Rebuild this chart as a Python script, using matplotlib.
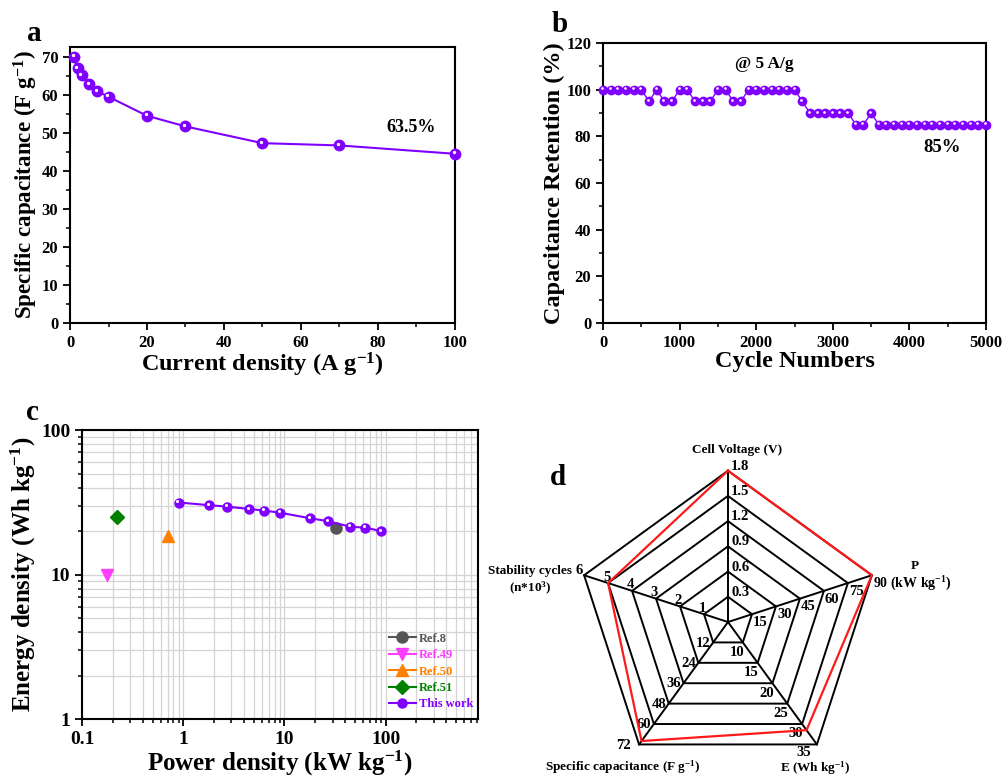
import numpy as np
import matplotlib
matplotlib.use('Agg')
import matplotlib.pyplot as plt
from matplotlib import transforms
from matplotlib.ticker import MultipleLocator, FuncFormatter

plt.rcParams['font.family'] = ['Liberation Serif', 'DejaVu Serif']
plt.rcParams['font.weight'] = 'bold'
plt.rcParams['axes.labelweight'] = 'bold'
plt.rcParams['mathtext.fontset'] = 'custom'
plt.rcParams['mathtext.rm'] = 'Liberation Serif:bold'
plt.rcParams['mathtext.bf'] = 'Liberation Serif:bold'
plt.rcParams['mathtext.it'] = 'Liberation Serif:bold:italic'

PURPLE = '#8000ff'

# --- panel a: rate capability
current_density = [1, 2, 3, 5, 7, 10, 20, 30, 50, 70, 100]
specific_cap = [70.0, 67.0, 65.2, 62.8, 61.0, 59.5, 54.5, 51.7, 47.3, 46.7, 44.5]

# --- panel b: cycling stability @ 5 A/g
cycles = [0, 100, 200, 300, 400, 500, 600, 700, 800, 900,
          1000, 1100, 1200, 1300, 1400, 1500, 1600, 1700, 1800, 1900,
          2000, 2100, 2200, 2300, 2400, 2500, 2600, 2700, 2800, 2900,
          3000, 3100, 3200, 3300, 3400, 3500, 3600, 3700, 3800, 3900,
          4000, 4100, 4200, 4300, 4400, 4500, 4600, 4700, 4800, 4900, 5000]
retention = [100, 100, 100, 100, 100, 100, 95, 100, 95, 95,
             100, 100, 95, 95, 95, 100, 100, 95, 95, 100,
             100, 100, 100, 100, 100, 100, 95, 90, 90, 90,
             90, 90, 90, 85, 85, 90, 85, 85, 85, 85,
             85, 85, 85, 85, 85, 85, 85, 85, 85, 85, 85]

# --- panel c: Ragone plot
power_this = [0.9, 1.8, 2.7, 4.5, 6.3, 9.0, 18, 27, 45, 63, 90]
energy_this = [31.5, 30.2, 29.5, 28.4, 27.7, 26.8, 24.5, 23.4, 21.4, 21.1, 20.0]
ref_names = ['Ref.8', 'Ref.49', 'Ref.50', 'Ref.51']
ref_power = [32, 0.178, 0.70, 0.224]
ref_energy = [20.9, 10.0, 18.5, 24.9]
ref_colors = ['#555555', '#ff3dff', '#ff8000', '#008000']
ref_markers = ['o', 'v', '^', 'D']

# --- panel d: radar
radar_labels = ['Cell Voltage (V)', 'P', r'E (Wh kg$^{-1}$)',
                r'Specific capacitance (F g$^{-1}$)', 'Stability cycles\n(n*10$^{3}$)']
radar_ticks = [[0.3, 0.6, 0.9, 1.2, 1.5, 1.8],
               [15, 30, 45, 60, 75, 90],
               [10, 15, 20, 25, 30, 35],
               [12, 24, 36, 48, 60, 72],
               [1, 2, 3, 4, 5, 6]]
radar_values = [1.8, 90, 31.5, 70, 5]


def sphere_plot(ax, x, y, ms, lw=1.5, **kw):
    ax.plot(x, y, '-o', color=PURPLE, ms=ms, mec=PURPLE, lw=lw, clip_on=False, zorder=3, **kw)
    hl = transforms.offset_copy(ax.transData, fig=ax.figure, x=-ms * 0.12, y=ms * 0.14, units='points')
    ax.plot(x, y, 'o', color='white', ms=ms * 0.32, mew=0, transform=hl, clip_on=False, zorder=4)


def style_axes(ax, labelsize=12):
    for s in ax.spines.values():
        s.set_linewidth(1.5)
    ax.tick_params(which='major', direction='out', length=5, width=1.3, labelsize=labelsize)
    ax.tick_params(which='minor', direction='out', length=3, width=1.1)


fig = plt.figure(figsize=(10.03, 7.79), dpi=100)

# a
ax = fig.add_axes([0.0698, 0.5854, 0.3838, 0.3543])
sphere_plot(ax, current_density, specific_cap, ms=7.5)
ax.set_xlim(0, 100)
ax.set_ylim(0, 72.6)
ax.xaxis.set_major_locator(MultipleLocator(20))
ax.xaxis.set_minor_locator(MultipleLocator(10))
ax.yaxis.set_major_locator(MultipleLocator(10))
ax.yaxis.set_minor_locator(MultipleLocator(5))
style_axes(ax)
ax.set_xlabel(r'Current density (A g$^{-1}$)', fontsize=17.5, labelpad=0)
ax.set_ylabel(r'Specific capacitance (F g$^{-1}$)', fontsize=16.6, labelpad=1)
ax.text(88.6, 51.3, '63.5%', fontsize=13, ha='center', va='center')
fig.text(0.034, 0.957, 'a', fontsize=21, ha='center', va='center')

# b
ax = fig.add_axes([0.6012, 0.5854, 0.3819, 0.3594])
sphere_plot(ax, cycles, retention, ms=6, lw=1.0)
ax.set_xlim(0, 5000)
ax.set_ylim(0, 120)
ax.xaxis.set_major_locator(MultipleLocator(1000))
ax.xaxis.set_minor_locator(MultipleLocator(500))
ax.yaxis.set_major_locator(MultipleLocator(20))
ax.yaxis.set_minor_locator(MultipleLocator(10))
style_axes(ax)
ax.set_xlabel('Cycle Numbers', fontsize=17.5, labelpad=0)
ax.set_ylabel('Capacitance Retention (%)', fontsize=17.5, labelpad=1)
ax.text(2100, 111, '@ 5 A/g', fontsize=12.5, ha='center', va='center')
ax.text(4426, 75, '85%', fontsize=13.5, ha='center', va='center')
fig.text(0.558, 0.968, 'b', fontsize=21, ha='center', va='center')

# c
ax = fig.add_axes([0.0818, 0.0770, 0.3948, 0.3710])
ax.set_xscale('log')
ax.set_yscale('log')
for name, p, e, c, m in zip(ref_names, ref_power, ref_energy, ref_colors, ref_markers):
    ax.plot([p], [e], '-', marker=m, color=c, ms=8 if m != 'D' else 7, lw=1.5, label=name, zorder=3)
ax.plot(power_this, energy_this, '-o', color=PURPLE, ms=6.5, mfc=PURPLE, lw=1.5, label='This work', zorder=3)
hl = transforms.offset_copy(ax.transData, fig=fig, x=-0.8, y=1.0, units='points')
ax.plot(power_this, energy_this, 'o', color='white', ms=2.2, mew=0, transform=hl, zorder=4)
ax.set_xlim(0.1, 820)
ax.set_ylim(1, 100)
ax.grid(True, which='both', color='#d4d4d4', lw=0.9)
ax.set_axisbelow(True)
fmt = FuncFormatter(lambda v, _: '%g' % v)
ax.xaxis.set_major_formatter(fmt)
ax.yaxis.set_major_formatter(fmt)
style_axes(ax, labelsize=14)
ax.set_xlabel(r'Power density (kW kg$^{-1}$)', fontsize=18, labelpad=1)
ax.set_ylabel(r'Energy density (Wh kg$^{-1}$)', fontsize=18, labelpad=2)
leg = ax.legend(loc='lower right', frameon=False, fontsize=9, handlelength=2.2,
                handletextpad=0.2, labelspacing=0.35, borderaxespad=0.3,
                bbox_to_anchor=(1.01, 0.0))
for t, c in zip(leg.get_texts(), ref_colors + [PURPLE]):
    t.set_color(c)
fig.text(0.032, 0.470, 'c', fontsize=21, ha='center', va='center')

# d radar
ax = fig.add_axes([500 / 1003, 4 / 779, 500 / 1003, 345 / 779])
ax.set_xlim(-1.507, 1.798)
ax.set_ylim(-1.011, 1.269)
ax.axis('off')
angles = np.deg2rad(90 - 72 * np.arange(5))
ring_frac = np.arange(1, 7) / 6
for f in ring_frac:
    ax.plot(np.append(f * np.cos(angles), f * np.cos(angles[0])),
            np.append(f * np.sin(angles), f * np.sin(angles[0])), color='black', lw=1.4)
for a in angles:
    ax.plot([0, np.cos(a)], [0, np.sin(a)], color='black', lw=1.4)
val_frac = np.array([np.interp(v, t, ring_frac) for v, t in zip(radar_values, radar_ticks)])
ax.plot(np.append(val_frac * np.cos(angles), val_frac[0] * np.cos(angles[0])),
        np.append(val_frac * np.sin(angles), val_frac[0] * np.sin(angles[0])),
        color='#ff1a1a', lw=1.6, zorder=5)

tick_offsets = [(0.02, 0.03), (0.055, -0.055), (-0.04, -0.065), (-0.065, -0.005), (-0.01, 0.04)]
tick_ha = ['left', 'center', 'center', 'center', 'center']
for i, (a, ticks) in enumerate(zip(angles, radar_ticks)):
    for k, (f, t) in enumerate(zip(ring_frac, ticks)):
        dx, dy = tick_offsets[i]
        x, y = f * np.cos(a), f * np.sin(a)
        if i == 1 and k == 5:
            ax.text(x + 0.01, y - 0.055, '%g' % t + r' (kW kg$^{-1}$)', fontsize=10, ha='left', va='center')
            continue
        if k == 5:
            dx, dy = {0: (dx, dy), 2: (-0.085, -0.055), 3: (-0.1, -0.01), 4: (-0.03, 0.03)}[i]
        ax.text(x + dx, y + dy, '%g' % t, fontsize=10.5, ha=tick_ha[i], va='center')

p1 = (np.cos(angles[1]), np.sin(angles[1]))
ax.text(0.06, 1.14, radar_labels[0], fontsize=9.5, ha='center', va='center')
ax.text(p1[0] + 0.285, p1[1] + 0.06, radar_labels[1], fontsize=9.5, ha='center', va='center')
ax.text(0.576, -0.967, radar_labels[2], fontsize=9.5, ha='center', va='center')
ax.text(-0.695, -0.96, radar_labels[3], fontsize=9.5, ha='center', va='center')
ax.text(-1.31, 0.27, radar_labels[4], fontsize=9.5, ha='center', va='center', linespacing=1.3)
ax.text(-1.126, 0.954, 'd', fontsize=21, ha='center', va='center')

fig.savefig('out.png', dpi=100)
